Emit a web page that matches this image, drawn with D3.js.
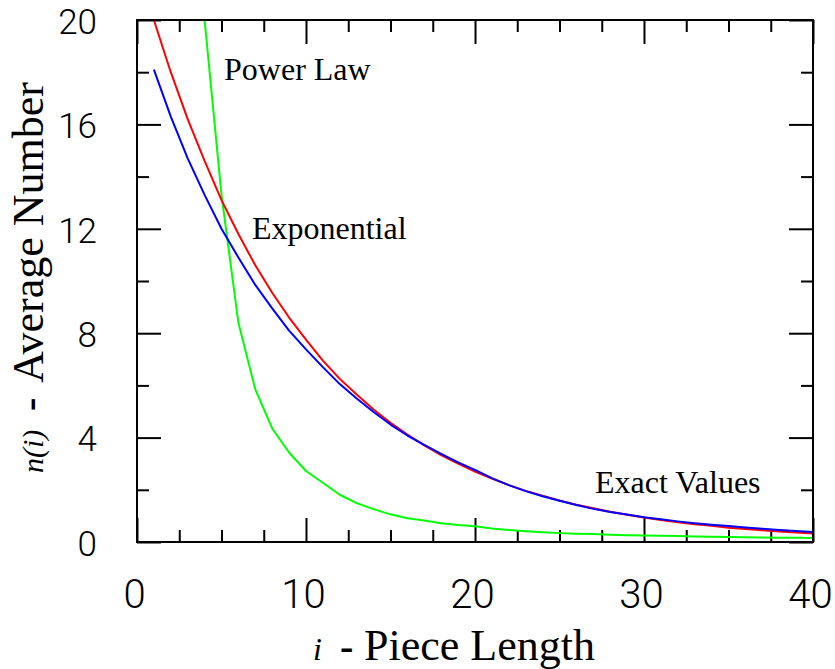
<!DOCTYPE html>
<html>
<head>
<meta charset="utf-8">
<script src="https://cdn.jsdelivr.net/npm/d3@7"></script>
<style>
  html, body { margin: 0; padding: 0; background: #fff; }
  svg { display: block; }
  .tick text { font-family: Roboto, "Liberation Sans", Arial, sans-serif; font-weight: 300; fill: #000; }
</style>
</head>
<body>
<svg id="chart" width="835" height="669"></svg>
<script>
// ---- data ----
const pieceLength = d3.range(1, 41); // i = 1..40
const exactValues = [18.1, 16.3, 14.7, 13.3, 12.0, 10.9, 9.85, 8.95, 8.1, 7.38,
  6.7, 6.05, 5.5, 4.98, 4.5, 4.08, 3.72, 3.38, 3.05, 2.76,
  2.45, 2.18, 1.95, 1.75, 1.58, 1.42, 1.27, 1.15, 1.05, 0.95,
  0.87, 0.79, 0.72, 0.66, 0.61, 0.56, 0.51, 0.46, 0.42, 0.38];
const exponentialValues = [20.0, 18.0, 16.2, 14.6, 13.1, 11.8, 10.6, 9.55, 8.6, 7.75,
  6.95, 6.25, 5.65, 5.08, 4.57, 4.12, 3.7, 3.33, 3.0, 2.7,
  2.43, 2.18, 1.96, 1.77, 1.59, 1.43, 1.29, 1.16, 1.04, 0.94,
  0.84, 0.76, 0.68, 0.62, 0.55, 0.50, 0.45, 0.40, 0.36, 0.33];
const powerLawLength = d3.range(4, 41); // i = 4..40 (below 4 it is off the chart)
const powerLawValues = [20.0, 13.3, 8.4, 5.85, 4.35, 3.43, 2.72, 2.27, 1.81, 1.49,
  1.26, 1.06, 0.91, 0.82, 0.72, 0.65, 0.60, 0.52, 0.46, 0.41,
  0.37, 0.34, 0.32, 0.31, 0.28, 0.26, 0.25, 0.24, 0.23, 0.21,
  0.20, 0.19, 0.18, 0.17, 0.16, 0.16, 0.15];

const xMajorTicks = [0, 10, 20, 30, 40];
const xMinorTicks = [2.5, 5, 7.5, 12.5, 15, 17.5, 22.5, 25, 27.5, 32.5, 35, 37.5];
const yMajorTicks = [0, 4, 8, 12, 16, 20];
const yMinorTicks = [2, 6, 10, 14, 18];

const annotations = [
  { text: "Power Law", i: 5.15, v: 17.7 },
  { text: "Exponential", i: 6.8, v: 11.6 },
  { text: "Exact Values", i: 27.1, v: 1.88 }
];

// ---- layout ----
const svg = d3.select("#chart");
const L = 137, R = 813, T = 20, B = 542;
const x = d3.scaleLinear().domain([0, 40]).range([L, R]);
const y = d3.scaleLinear().domain([0, 20]).range([B, T]);

svg.append("rect").attr("width", 835).attr("height", 669).attr("fill", "#fff");

// ---- axes (ticks pointing inward on all four sides) ----
function styleAxis(g) {
  g.select(".domain").remove();
  g.selectAll(".tick line").attr("stroke", "#000").attr("stroke-width", 2);
}

svg.append("g").attr("transform", `translate(0,${B})`)
  .call(d3.axisBottom(x).tickValues(xMajorTicks).tickSize(-24).tickPadding(37).tickFormat(d3.format("d")))
  .call(styleAxis)
  .call(g => g.selectAll(".tick text").attr("font-size", 40).attr("dx", -3).attr("dy", "0.72em"));
svg.append("g").attr("transform", `translate(0,${B})`)
  .call(d3.axisBottom(x).tickValues(xMinorTicks).tickSize(-12).tickFormat(""))
  .call(styleAxis);
svg.append("g").attr("transform", `translate(0,${T})`)
  .call(d3.axisTop(x).tickValues(xMajorTicks).tickSize(-24).tickFormat(""))
  .call(styleAxis);
svg.append("g").attr("transform", `translate(0,${T})`)
  .call(d3.axisTop(x).tickValues(xMinorTicks).tickSize(-12).tickFormat(""))
  .call(styleAxis);

svg.append("g").attr("transform", `translate(${L},0)`)
  .call(d3.axisLeft(y).tickValues(yMajorTicks).tickSize(-24).tickPadding(40).tickFormat(d3.format("d")))
  .call(styleAxis)
  .call(g => g.selectAll(".tick text").attr("font-size", 35).attr("dy", "0.38em"));
svg.append("g").attr("transform", `translate(${L},0)`)
  .call(d3.axisLeft(y).tickValues(yMinorTicks).tickSize(-12).tickFormat(""))
  .call(styleAxis);
svg.append("g").attr("transform", `translate(${R},0)`)
  .call(d3.axisRight(y).tickValues(yMajorTicks).tickSize(-24).tickFormat(""))
  .call(styleAxis);
svg.append("g").attr("transform", `translate(${R},0)`)
  .call(d3.axisRight(y).tickValues(yMinorTicks).tickSize(-12).tickFormat(""))
  .call(styleAxis);

// ---- curves ----
const line = d3.line().x(d => x(d[0])).y(d => y(d[1]));
const series = [
  { xs: powerLawLength, vs: powerLawValues, color: "#00ff00" },
  { xs: pieceLength, vs: exponentialValues, color: "#ff0000" },
  { xs: pieceLength, vs: exactValues, color: "#0000ff" }
];
series.forEach(s => {
  svg.append("path")
    .datum(s.xs.map((xi, k) => [xi, s.vs[k]]))
    .attr("fill", "none")
    .attr("stroke", s.color)
    .attr("stroke-width", 2)
    .attr("stroke-linejoin", "round")
    .attr("d", line);
});

// ---- frame ----
svg.append("rect")
  .attr("x", L).attr("y", T).attr("width", R - L).attr("height", B - T)
  .attr("fill", "none").attr("stroke", "#000").attr("stroke-width", 2);

// ---- annotations ----
svg.selectAll("text.note").data(annotations).join("text")
  .attr("class", "note")
  .attr("x", d => x(d.i)).attr("y", d => y(d.v))
  .attr("font-family", "'Liberation Serif', 'Times New Roman', serif")
  .attr("font-size", 32)
  .attr("fill", "#000")
  .text(d => d.text);

// ---- axis titles ----
const serif = "'Liberation Serif', 'Times New Roman', serif";
const xt = svg.append("text").attr("y", 660).attr("font-family", serif).attr("fill", "#000");
xt.append("tspan").attr("x", 313).attr("font-size", 32).attr("font-style", "italic").text("i");
xt.append("tspan").attr("x", 340).attr("font-size", 40).attr("font-weight", "bold").text("-");
xt.append("tspan").attr("x", 364).attr("font-size", 44).text("Piece Length");

const yt = svg.append("text").attr("transform", "translate(43,0) rotate(-90)")
  .attr("font-family", serif).attr("fill", "#000");
yt.append("tspan").attr("x", -473).attr("font-size", 30).attr("font-style", "italic").text("n(i)");
yt.append("tspan").attr("x", -411).attr("font-size", 40).attr("font-weight", "bold").text("-");
yt.append("tspan").attr("x", -383).attr("font-size", 44).text("Average Number");
</script>
</body>
</html>
